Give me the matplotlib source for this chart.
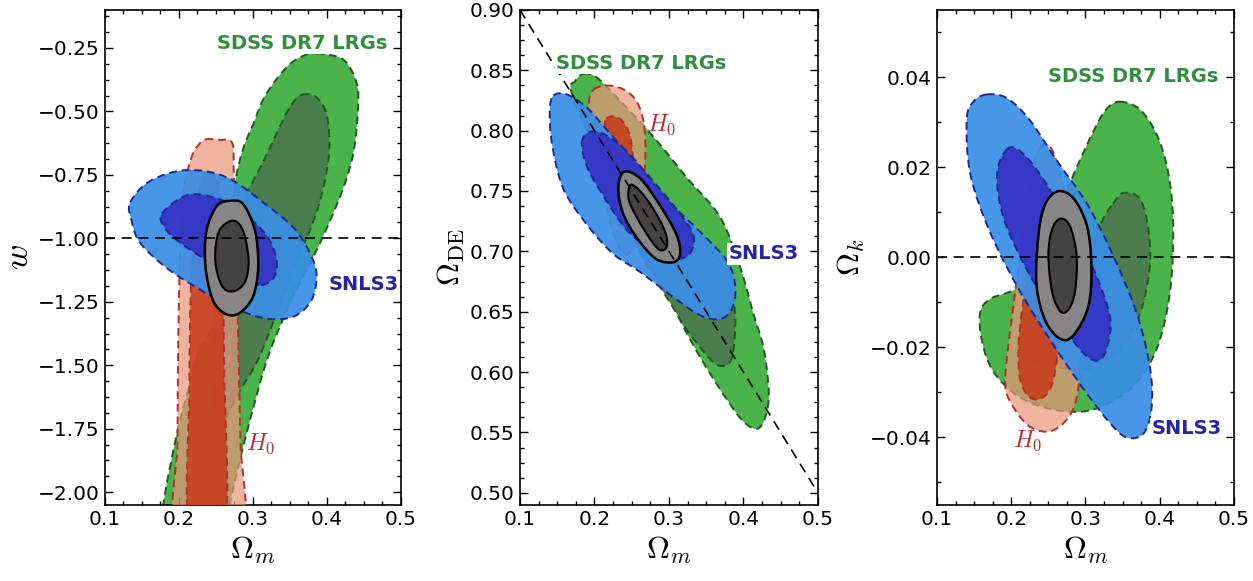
import numpy as np
import matplotlib
matplotlib.use("Agg")
import matplotlib.pyplot as plt
from matplotlib.path import Path
from matplotlib.patches import PathPatch
from matplotlib.ticker import MultipleLocator, FuncFormatter

plt.rcParams["mathtext.fontset"] = "cm"
plt.rcParams["font.family"] = ["DejaVu Sans"]

# ---------------- Panel 1 : Omega_m vs w ----------------
p1_lrg_out_x = [0.386, 0.422, 0.440, 0.442, 0.436, 0.422, 0.402, 0.384, 0.359, 0.341, 0.318, 0.291, 0.269, 0.266,
                0.179, 0.179, 0.197, 0.212, 0.228, 0.245, 0.278, 0.303, 0.318, 0.346, 0.368]
p1_lrg_out_y = [-0.271, -0.296, -0.388, -0.488, -0.659, -0.802, -0.945, -1.059, -1.202, -1.316, -1.487, -1.772, -2.043, -2.15,
                -2.15, -2.043, -1.772, -1.601, -1.430, -1.331, -0.745, -0.531, -0.431, -0.324, -0.281]
p1_lrg_in_x = [0.366, 0.386, 0.400, 0.403, 0.395, 0.382, 0.364, 0.346, 0.309, 0.282, 0.255, 0.246, 0.242, 0.273, 0.286, 0.318, 0.341, 0.352]
p1_lrg_in_y = [-0.434, -0.445, -0.517, -0.659, -0.802, -0.930, -1.059, -1.187, -1.464, -1.601, -1.736, -1.588, -1.464, -1.130, -0.873, -0.674, -0.531, -0.474]
p1_h0_out_x = [0.236, 0.254, 0.272, 0.274, 0.277, 0.280, 0.283, 0.284, 0.197, 0.198, 0.199, 0.202, 0.207, 0.217, 0.227]
p1_h0_out_y = [-0.610, -0.612, -0.625, -0.75, -1.0, -1.4, -1.8, -2.15, -2.15, -1.8, -1.4, -1.0, -0.80, -0.68, -0.63]
p1_h0_in_x = [0.240, 0.250, 0.256, 0.259, 0.261, 0.262, 0.214, 0.214, 0.216, 0.222, 0.231]
p1_h0_in_y = [-0.745, -0.760, -0.85, -1.1, -1.5, -2.15, -2.15, -1.6, -1.2, -0.9, -0.78]
p1_sn_out_x = [0.134, 0.161, 0.210, 0.264, 0.314, 0.355, 0.377, 0.386, 0.379, 0.355, 0.318, 0.273, 0.228, 0.183, 0.147, 0.136]
p1_sn_out_y = [-0.859, -0.774, -0.731, -0.759, -0.859, -0.959, -1.059, -1.144, -1.244, -1.308, -1.316, -1.273, -1.201, -1.116, -1.016, -0.930]
p1_sn_in_x = [0.177, 0.210, 0.246, 0.282, 0.318, 0.332, 0.327, 0.305, 0.273, 0.237, 0.201, 0.181]
p1_sn_in_y = [-0.902, -0.831, -0.838, -0.888, -0.988, -1.087, -1.159, -1.187, -1.159, -1.087, -1.016, -0.959]
p1_all_out_x = [0.269, 0.287, 0.303, 0.307, 0.300, 0.282, 0.264, 0.246, 0.236, 0.237, 0.251]
p1_all_out_y = [-0.852, -0.866, -0.973, -1.116, -1.230, -1.294, -1.299, -1.245, -1.116, -0.973, -0.873]
p1_all_in_x = [0.273, 0.287, 0.294, 0.289, 0.273, 0.258, 0.249, 0.254]
p1_all_in_y = [-0.930, -0.973, -1.087, -1.173, -1.209, -1.187, -1.087, -0.973]
p1_ref_w = -1.0

# ---------------- Panel 2 : Omega_m vs Omega_DE ----------------
p2_lrg_out_x = [0.185, 0.203, 0.234, 0.279, 0.324, 0.369, 0.396, 0.414, 0.427, 0.434, 0.429, 0.418, 0.400, 0.378,
                0.346, 0.319, 0.297, 0.284, 0.243, 0.199, 0.169, 0.174]
p2_lrg_out_y = [0.847, 0.844, 0.825, 0.795, 0.761, 0.728, 0.686, 0.647, 0.620, 0.583, 0.562, 0.553, 0.559, 0.577,
                0.608, 0.638, 0.668, 0.698, 0.740, 0.788, 0.832, 0.841]
p2_lrg_in_x = [0.222, 0.250, 0.295, 0.340, 0.370, 0.386, 0.389, 0.384, 0.371, 0.355, 0.324, 0.306, 0.279, 0.250, 0.228, 0.214]
p2_lrg_in_y = [0.808, 0.770, 0.738, 0.712, 0.690, 0.660, 0.638, 0.611, 0.605, 0.611, 0.635, 0.653, 0.680, 0.712, 0.750, 0.790]
p2_h0_out_x = [0.199, 0.225, 0.252, 0.266, 0.268, 0.261, 0.252, 0.239, 0.225, 0.210, 0.196, 0.192]
p2_h0_out_y = [0.834, 0.837, 0.828, 0.807, 0.773, 0.734, 0.704, 0.698, 0.716, 0.752, 0.788, 0.819]
p2_h0_in_x = [0.216, 0.234, 0.248, 0.252, 0.245, 0.234, 0.225, 0.219, 0.214]
p2_h0_in_y = [0.810, 0.810, 0.795, 0.764, 0.731, 0.722, 0.737, 0.770, 0.795]
p2_sn_out_x = [0.145, 0.163, 0.190, 0.216, 0.252, 0.297, 0.342, 0.378, 0.389, 0.385, 0.369, 0.342, 0.306, 0.261,
               0.225, 0.190, 0.158, 0.143, 0.140]
p2_sn_out_y = [0.829, 0.830, 0.819, 0.801, 0.776, 0.743, 0.716, 0.692, 0.671, 0.653, 0.644, 0.647, 0.662, 0.683,
               0.698, 0.722, 0.752, 0.789, 0.816]
p2_sn_in_x = [0.183, 0.194, 0.216, 0.243, 0.279, 0.315, 0.333, 0.328, 0.310, 0.279, 0.243, 0.212, 0.190]
p2_sn_in_y = [0.790, 0.799, 0.796, 0.783, 0.758, 0.731, 0.713, 0.698, 0.694, 0.700, 0.718, 0.746, 0.770]
p2_all_out_x = [0.240, 0.262, 0.288, 0.310, 0.315, 0.306, 0.282, 0.256, 0.238, 0.232]
p2_all_out_y = [0.766, 0.760, 0.738, 0.714, 0.698, 0.691, 0.694, 0.712, 0.732, 0.753]
p2_all_in_x = [0.248, 0.261, 0.279, 0.295, 0.297, 0.288, 0.275, 0.257, 0.246]
p2_all_in_y = [0.755, 0.750, 0.735, 0.716, 0.704, 0.701, 0.710, 0.728, 0.743]
p2_flat_x = np.array([0.1, 0.5])
p2_flat_y = 1.0 - p2_flat_x

# ---------------- Panel 3 : Omega_m vs Omega_k ----------------
p3_lrg_out_x = [0.346, 0.373, 0.396, 0.411, 0.418, 0.416, 0.407, 0.391, 0.364, 0.328, 0.293, 0.248, 0.208, 0.176,
                0.161, 0.158, 0.172, 0.208, 0.239, 0.261, 0.284, 0.311, 0.328]
p3_lrg_out_y = [0.0346, 0.0329, 0.0273, 0.0192, 0.0086, -0.0043, -0.0141, -0.0222, -0.0287, -0.0327, -0.0343, -0.0335,
                -0.0307, -0.0254, -0.0189, -0.0124, -0.0092, -0.0068, -0.0011, 0.0086, 0.0184, 0.0281, 0.0329]
p3_lrg_in_x = [0.337, 0.351, 0.373, 0.384, 0.387, 0.378, 0.360, 0.328, 0.293, 0.248, 0.221, 0.212, 0.230, 0.275, 0.311, 0.324]
p3_lrg_in_y = [0.0119, 0.0143, 0.0131, 0.0070, -0.0011, -0.0100, -0.0173, -0.0230, -0.0250, -0.0238, -0.0218, -0.0189,
               -0.0141, -0.0060, 0.0038, 0.0086]
p3_h0_out_x = [0.239, 0.257, 0.279, 0.293, 0.293, 0.284, 0.257, 0.225, 0.198, 0.192, 0.199, 0.212, 0.225]
p3_h0_out_y = [0.0244, 0.0232, 0.0086, -0.0076, -0.0238, -0.0335, -0.0384, -0.0376, -0.0319, -0.0270, -0.0157, 0.0005, 0.0167]
p3_h0_in_x = [0.239, 0.257, 0.270, 0.266, 0.257, 0.243, 0.225, 0.212, 0.210, 0.219, 0.228]
p3_h0_in_y = [0.0151, 0.0119, 0.0005, -0.0157, -0.0270, -0.0311, -0.0311, -0.0270, -0.0189, -0.0060, 0.0070]
p3_sn_out_x = [0.167, 0.194, 0.225, 0.261, 0.302, 0.337, 0.369, 0.387, 0.389, 0.378, 0.355, 0.333, 0.302, 0.261,
               0.212, 0.172, 0.145, 0.140, 0.149]
p3_sn_out_y = [0.0362, 0.0354, 0.0305, 0.0216, 0.0119, 0.0005, -0.0124, -0.0246, -0.0335, -0.0392, -0.0400, -0.0368,
               -0.0303, -0.0205, -0.0076, 0.0054, 0.0184, 0.0305, 0.0346]
p3_sn_in_x = [0.194, 0.212, 0.239, 0.275, 0.311, 0.333, 0.328, 0.315, 0.293, 0.257, 0.221, 0.190, 0.181]
p3_sn_in_y = [0.0240, 0.0236, 0.0184, 0.0086, -0.0027, -0.0133, -0.0205, -0.0230, -0.0205, -0.0124, -0.0027, 0.0086, 0.0184]
p3_all_out_x = [0.263, 0.284, 0.302, 0.308, 0.304, 0.284, 0.266, 0.246, 0.234, 0.237, 0.246]
p3_all_out_y = [0.0147, 0.0131, 0.0070, -0.0019, -0.0108, -0.0173, -0.0181, -0.0141, -0.0060, 0.0054, 0.0119]
p3_all_in_x = [0.266, 0.279, 0.288, 0.286, 0.277, 0.266, 0.255, 0.250, 0.255]
p3_all_in_y = [0.0086, 0.0070, 0.0005, -0.0076, -0.0116, -0.0120, -0.0076, 0.0005, 0.0062]
p3_ref_k = 0.0

# ---------------- labels ----------------
lab_sdss = "SDSS DR7 LRGs"
lab_sn = "SNLS3"
lab_h0 = "$H_0$"
p1_lab_pos = {"sdss": (0.251, -0.231), "sn": (0.402, -1.18), "h0": (0.291, -1.81)}
p2_lab_pos = {"sdss": (0.149, 0.856), "sn": (0.380, 0.698), "h0": (0.270, 0.805)}
p3_lab_pos = {"sdss": (0.250, 0.0402), "sn": (0.389, -0.038), "h0": (0.203, -0.0408)}

# colours
C_LRG2, C_LRG1, C_LRGE = "#4ab34a", "#4b7d4d", "#1f5a22"
C_H02, C_H01, C_H0E = "#e8977a", "#c93a1a", "#b0302a"
C_SN2, C_SN1, C_SNE = "#3a8ee6", "#3430c4", "#1a2a90"
C_ALL2, C_ALL1 = "#878585", "#474242"


def smooth_closed(xs, ys):
    p = np.column_stack([xs, ys]).astype(float)
    n = len(p)
    verts = [p[0]]
    codes = [Path.MOVETO]
    for i in range(n):
        p0, p1, p2, p3 = p[i - 1], p[i], p[(i + 1) % n], p[(i + 2) % n]
        c1 = p1 + (p2 - p0) / 6.0
        c2 = p2 - (p3 - p1) / 6.0
        verts += [c1, c2, p2]
        codes += [Path.CURVE4] * 3
    verts.append(p[0])
    codes.append(Path.CLOSEPOLY)
    return Path(np.array(verts), codes)


def blob(ax, xs, ys, fc, ec, alpha=1.0, ls=(0, (4, 2.5)), lw=1.4, z=1):
    ax.add_patch(PathPatch(smooth_closed(xs, ys), facecolor=fc, edgecolor="none", alpha=alpha, zorder=z))
    ax.add_patch(PathPatch(smooth_closed(xs, ys), facecolor="none", edgecolor=ec, lw=lw, linestyle=ls, zorder=z + 0.01))


def draw_panel(ax, d):
    blob(ax, d["lo_x"], d["lo_y"], C_LRG2, C_LRGE, 1.0, z=1)
    blob(ax, d["li_x"], d["li_y"], C_LRG1, C_LRGE, 1.0, z=2)
    blob(ax, d["ho_x"], d["ho_y"], C_H02, C_H0E, 0.72, z=3)
    blob(ax, d["hi_x"], d["hi_y"], C_H01, C_H0E, 0.85, z=4)
    blob(ax, d["so_x"], d["so_y"], C_SN2, C_SNE, 0.93, z=5)
    blob(ax, d["si_x"], d["si_y"], C_SN1, C_SNE, 0.9, z=6)
    blob(ax, d["ao_x"], d["ao_y"], C_ALL2, "black", 1.0, ls="-", lw=1.8, z=7)
    blob(ax, d["ai_x"], d["ai_y"], C_ALL1, "black", 1.0, ls="-", lw=1.5, z=8)


def minus_fmt(dec):
    return FuncFormatter(lambda v, pos: f"{v:.{dec}f}".replace("-", "\u2212"))


fig = plt.figure(figsize=(12.53, 5.81), dpi=100)
bot, hgt = 0.131, 0.852
ax1 = fig.add_axes([0.0838, bot, 0.2362, hgt])
ax2 = fig.add_axes([0.4150, bot, 0.2378, hgt])
ax3 = fig.add_axes([0.7478, bot, 0.2370, hgt])

panels = [
    (ax1, dict(lo_x=p1_lrg_out_x, lo_y=p1_lrg_out_y, li_x=p1_lrg_in_x, li_y=p1_lrg_in_y,
               ho_x=p1_h0_out_x, ho_y=p1_h0_out_y, hi_x=p1_h0_in_x, hi_y=p1_h0_in_y,
               so_x=p1_sn_out_x, so_y=p1_sn_out_y, si_x=p1_sn_in_x, si_y=p1_sn_in_y,
               ao_x=p1_all_out_x, ao_y=p1_all_out_y, ai_x=p1_all_in_x, ai_y=p1_all_in_y), p1_lab_pos),
    (ax2, dict(lo_x=p2_lrg_out_x, lo_y=p2_lrg_out_y, li_x=p2_lrg_in_x, li_y=p2_lrg_in_y,
               ho_x=p2_h0_out_x, ho_y=p2_h0_out_y, hi_x=p2_h0_in_x, hi_y=p2_h0_in_y,
               so_x=p2_sn_out_x, so_y=p2_sn_out_y, si_x=p2_sn_in_x, si_y=p2_sn_in_y,
               ao_x=p2_all_out_x, ao_y=p2_all_out_y, ai_x=p2_all_in_x, ai_y=p2_all_in_y), p2_lab_pos),
    (ax3, dict(lo_x=p3_lrg_out_x, lo_y=p3_lrg_out_y, li_x=p3_lrg_in_x, li_y=p3_lrg_in_y,
               ho_x=p3_h0_out_x, ho_y=p3_h0_out_y, hi_x=p3_h0_in_x, hi_y=p3_h0_in_y,
               so_x=p3_sn_out_x, so_y=p3_sn_out_y, si_x=p3_sn_in_x, si_y=p3_sn_in_y,
               ao_x=p3_all_out_x, ao_y=p3_all_out_y, ai_x=p3_all_in_x, ai_y=p3_all_in_y), p3_lab_pos),
]

for ax, d, lp in panels:
    draw_panel(ax, d)
    ax.set_xlim(0.1, 0.5)
    ax.xaxis.set_major_locator(MultipleLocator(0.1))
    ax.xaxis.set_minor_locator(MultipleLocator(0.025))
    ax.xaxis.set_major_formatter(minus_fmt(1))
    ax.tick_params(which="both", direction="in", top=True, right=True, labelsize=14.5, width=1.0)
    ax.tick_params(which="major", length=6, pad=4)
    ax.tick_params(which="minor", length=3)
    ax.set_xlabel(r"$\Omega_m$", fontsize=23, labelpad=4)
    for sp in ax.spines.values():
        sp.set_linewidth(1.2)
    tkw = dict(fontsize=14, fontweight="bold", ha="left", va="center", zorder=20,
               bbox=dict(facecolor="white", edgecolor="none", pad=1.0))
    ax.text(*lp["sdss"], lab_sdss, color="#2f8f3a", **tkw)
    ax.text(*lp["sn"], lab_sn, color="#2424a8", **tkw)
    ax.text(*lp["h0"], lab_h0, color="#c0282a", fontsize=17, ha="left", va="center", zorder=20)

dash = dict(color="black", lw=1.2, linestyle=(0, (6, 4)), zorder=15)
ax1.axhline(p1_ref_w, **dash)
ax2.plot(p2_flat_x, p2_flat_y, **dash)
ax3.axhline(p3_ref_k, **dash)

ax1.set_ylim(-2.05, -0.10)
ax1.yaxis.set_major_locator(MultipleLocator(0.25))
ax1.yaxis.set_minor_locator(MultipleLocator(0.0625))
ax1.yaxis.set_major_formatter(minus_fmt(2))
ax1.set_ylabel(r"$w$", fontsize=25, labelpad=2)

ax2.set_ylim(0.49, 0.90)
ax2.yaxis.set_major_locator(MultipleLocator(0.05))
ax2.yaxis.set_minor_locator(MultipleLocator(0.0125))
ax2.yaxis.set_major_formatter(minus_fmt(2))
ax2.set_ylabel(r"$\Omega_{\rm DE}$", fontsize=23, labelpad=2)

ax3.set_ylim(-0.055, 0.055)
ax3.yaxis.set_major_locator(MultipleLocator(0.02))
ax3.yaxis.set_minor_locator(MultipleLocator(0.01))
ax3.yaxis.set_major_formatter(minus_fmt(2))
ax3.set_ylabel(r"$\Omega_k$", fontsize=23, labelpad=2)

fig.savefig("out.png", dpi=100)
